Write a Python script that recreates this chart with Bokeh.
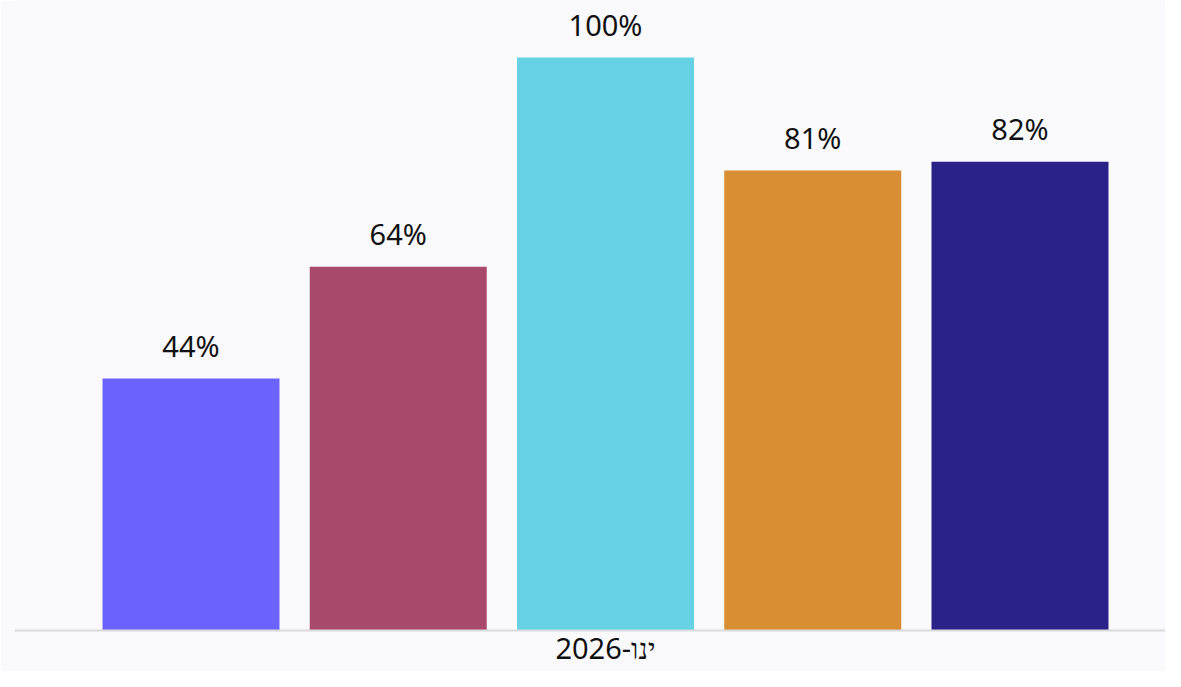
from bokeh.plotting import figure
from bokeh.models import Range1d, ColumnDataSource, Span
from bokeh.core.properties import value
from bokeh.embed import file_html
from bokeh.resources import INLINE

# data
category = ["ינו-2026"]
category_x = [2]
series_index = [0, 1, 2, 3, 4]
values = [44, 63.5, 100, 80.3, 81.8]
labels = ["44%", "64%", "100%", "81%", "82%"]
colors = ["#6C63FF", "#A8486B", "#67D2E3", "#D98E33", "#2A2289"]

FONT = "Noto Sans"
BG = "#FAFAFD"

p = figure(width=1165, height=671, output_backend="svg", toolbar_location=None,
           x_range=Range1d(-0.8516, 4.7021), y_range=Range1d(-7.155, 109.95),
           min_border_left=14, min_border_right=0, min_border_top=0, min_border_bottom=0,
           background_fill_color=BG, border_fill_color=BG)
p.outline_line_color = None
p.grid.visible = False
p.xaxis.visible = False
p.yaxis.visible = False

src = ColumnDataSource(dict(x=series_index, top=values, label=labels, color=colors))
p.vbar(x="x", top="top", bottom=0, width=0.854, fill_color="color", line_color=None, source=src)
p.text(x="x", y="top", text="label", source=src, text_align="center", text_baseline="alphabetic",
       y_offset=-33, text_font=value(FONT), text_font_size="29px", text_color="#111111")

# baseline (x axis line)
p.add_layout(Span(location=0, dimension="width", line_color="#DADADA", line_width=2))

# category label
p.text(x=category_x, y=[0], text=category, text_align="center", text_baseline="alphabetic",
       y_offset=17, text_font=value(FONT), text_font_size="29px", text_color="#111111")

open("out.html", "w").write(file_html(p, INLINE))
